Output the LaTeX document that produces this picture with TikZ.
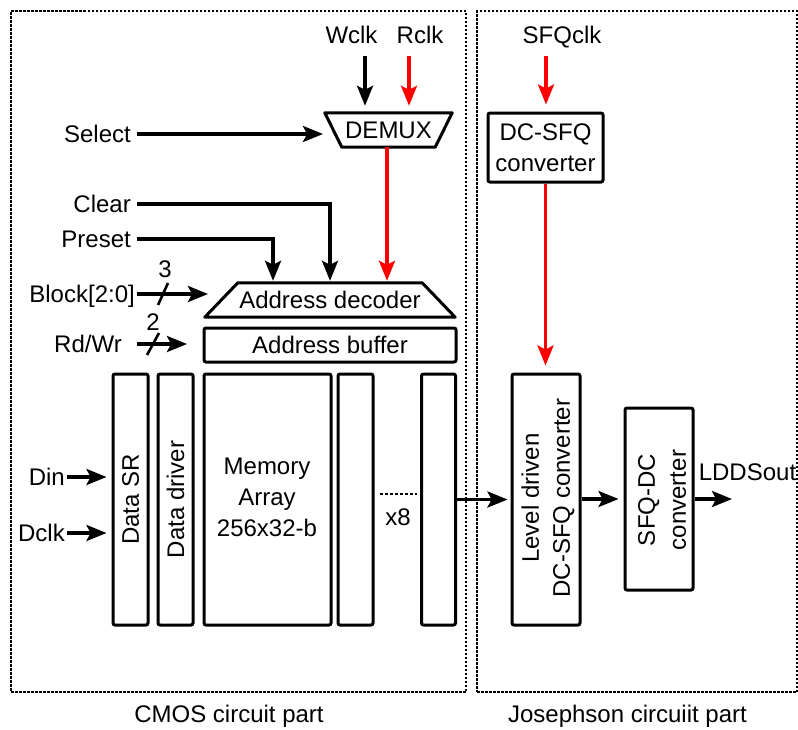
\documentclass[tikz,border=0pt]{standalone}
\usepackage{fontspec}
\setmainfont{Liberation Sans}
\usetikzlibrary{arrows.meta,calc}
\begin{document}
\begin{tikzpicture}[x=1pt,y=-1pt,
  every node/.style={font=\fontsize{24}{31}\selectfont},
  box/.style={draw, line width=3pt, rounded corners=2pt, inner sep=0pt},
  hid/.style={inner sep=0pt},
  lbl/.style={inner sep=0pt, text height=17.2pt, text depth=0pt},
  arr/.style={line width=3.2pt, -{Stealth[length=20pt,width=16pt,inset=4pt]}},
  redarr/.style={arr, draw=red},
  part/.style={draw, dash pattern=on 2.5pt off 1.5pt, line width=1.3pt, inner sep=0pt},
  bus/.style={line width=2.6pt},
]
\useasboundingbox (0,0) rectangle (798,729);

% circuit parts
\node[part, minimum width=455pt, minimum height=681pt] (cmos) at (238.5,351.5) {};
\node[part, minimum width=320pt, minimum height=681pt] (jos) at (637,351.5) {};
\node[lbl] (cmoslbl) at (229,713.5) {CMOS circuit part};
\node[lbl] (joslbl) at (627.5,713.5) {Josephson circuiit part};

% DEMUX
\node[hid, minimum width=127pt, minimum height=34pt] (dmx) at (388.5,130) {DEMUX};
\draw[line width=3pt, line join=round] (dmx.north west) -- (dmx.north east)
  -- ([xshift=-17pt]dmx.south east) -- ([xshift=17pt]dmx.south west) -- cycle;

% Address decoder
\node[hid, minimum width=250pt, minimum height=34pt] (dec) at (330,300) {Address decoder};
\draw[line width=3pt, line join=round] ([xshift=33pt]dec.north west) -- ([xshift=-33pt]dec.north east)
  -- (dec.south east) -- (dec.south west) -- cycle;

% Address buffer
\node[box, minimum width=252pt, minimum height=34pt] (buf) at (330,345) {Address buffer};

% columns
\node[box, minimum width=35pt, minimum height=251pt] (sr) at (130.5,499.5) {};
\node[rotate=90, hid] at (sr) {Data SR};
\node[box, minimum width=35pt, minimum height=251pt] (drv) at (175.5,499.5) {};
\node[rotate=90, hid] at (drv) {Data driver};
\node[box, minimum width=127pt, minimum height=251pt] (mem) at (267.5,499.5) {};
\node[hid, align=center] at (267,497) {Memory\\Array\\256x32-b};
\node[box, minimum width=35pt, minimum height=251pt] (c1) at (355.5,499.5) {};
\node[box, minimum width=34pt, minimum height=251pt] (c2) at (438.5,499.5) {};
\coordinate (dots1) at (380,494);
\coordinate (dots2) at (417,494);
\draw[line width=2.5pt, dash pattern=on 2.5pt off 2.5pt] (dots1) -- (dots2);
\node[lbl] (x8) at (398,517) {x8};

% Josephson part
\node[box, minimum width=115pt, minimum height=69pt] (dcsfq) at (545.5,147.5) {};
\node[hid, align=center] at (545.5,148) {DC-SFQ\\converter};
\node[box, minimum width=68pt, minimum height=251pt] (lvl) at (546,499.5) {};
\node[hid, align=center, rotate=90] at (548,498) {Level driven\\DC-SFQ converter};
\node[box, minimum width=68pt, minimum height=182pt] (sfqdc) at (659,499) {};
\node[hid, align=center, rotate=90] at (662,500) {SFQ-DC\\converter};

% top clock labels
\node[lbl] (wclk) at (351.5,35) {Wclk};
\node[lbl] (rclk) at (420,35) {Rclk};
\node[lbl] (sfqclk) at (562,35) {SFQclk};
\coordinate (wcs) at (365,56);
\coordinate (rcs) at (409,56);
\coordinate (scs) at (546,56);
\draw[arr, shorten >=7pt] (wcs) -- (wcs |- dmx.north);
\draw[redarr, shorten >=7pt] (rcs) -- (rcs |- dmx.north);
\draw[redarr, shorten >=7pt] (scs) -- (scs |- dcsfq.north);
\draw[redarr, shorten >=7pt] (dcsfq.south) -- (dcsfq.south |- lvl.north);

% left inputs
\node[lbl, anchor=east, inner xsep=6pt] (sel) at (137,134) {Select};
\coordinate (selt) at (323,134);
\draw[arr] (sel.east) -- (selt);

\node[lbl, anchor=east, inner xsep=6pt] (clr) at (137,204) {Clear};
\node[lbl, anchor=east, inner xsep=6pt] (pre) at (137,239) {Preset};
\coordinate (cx) at (330,0);
\coordinate (px) at (273,0);
\coordinate (rx) at (387,0);
\draw[arr, shorten >=2pt] (clr.east) -| (cx |- dec.north);
\draw[arr, shorten >=2pt] (pre.east) -| (px |- dec.north);
\draw[redarr, shorten >=2pt] (rx |- dmx.south) -- (rx |- dec.north);

\node[lbl, anchor=east, inner xsep=2pt] (blk) at (137,294) {Block[2:0]};
\coordinate (blkt) at (208,294);
\draw[arr] (blk.east) -- (blkt);
\coordinate (bs1) at (158,305);
\coordinate (bs2) at (168,283);
\draw[bus] (bs1) -- (bs2);
\node[lbl] (n3) at (165,269) {3};

\node[lbl, anchor=east, inner xsep=15pt] (rw) at (137,344) {Rd/Wr};
\coordinate (rwt) at (187,344);
\draw[arr] (rw.east) -- (rwt);
\coordinate (rs1) at (147,355);
\coordinate (rs2) at (159,333);
\draw[bus] (rs1) -- (rs2);
\node[lbl] (n2) at (153,322) {2};

\node[lbl, anchor=east, inner xsep=2pt] (din) at (67,477) {Din};
\node[lbl, anchor=east, inner xsep=2pt] (dclk) at (67,533) {Dclk};
\draw[arr, shorten >=5pt] (din.east) -- (din.east -| sr.west);
\draw[arr, shorten >=5pt] (dclk.east) -- (dclk.east -| sr.west);

% data path
\draw[arr, shorten >=3pt] (c2.east) -- (c2.east -| lvl.west);
\draw[arr, shorten >=5pt] (lvl.east |- sfqdc.west) -- (sfqdc.west);
\coordinate (outt) at (732,499);
\draw[arr] (sfqdc.east) -- (outt);
\node[lbl] (ldds) at (747.5,472) {LDDSout};
\end{tikzpicture}
\end{document}
